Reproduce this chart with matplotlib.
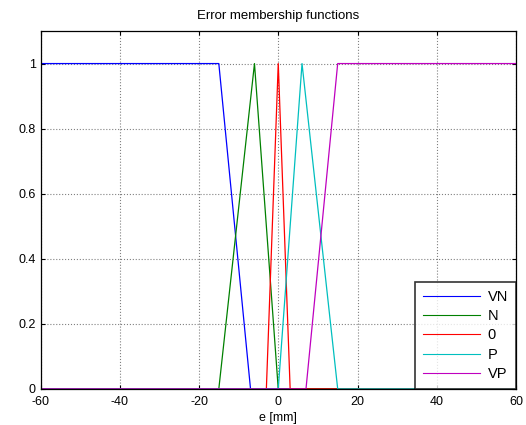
import matplotlib
matplotlib.use("Agg")
import matplotlib.pyplot as plt

plt.rcParams['font.family'] = ['Liberation Sans', 'DejaVu Sans']
plt.rcParams['axes.unicode_minus'] = False

# breakpoints of each membership function (x in mm, y = membership degree)
names = ["VN", "N", "0", "P", "VP"]
vn_x = [-60, -15, -7, 60]
vn_y = [1, 1, 0, 0]
n_x = [-60, -15, -6, 0, 60]
n_y = [0, 0, 1, 0, 0]
z_x = [-60, -3, 0, 3, 60]
z_y = [0, 0, 1, 0, 0]
p_x = [-60, 0, 6, 15, 60]
p_y = [0, 0, 1, 0, 0]
vp_x = [-60, 7, 15, 60]
vp_y = [0, 0, 1, 1]

colors = ['#0000ff', '#008000', '#ff0000', '#00bfbf', '#bf00bf']
xs = [vn_x, n_x, z_x, p_x, vp_x]
ys = [vn_y, n_y, z_y, p_y, vp_y]

fig = plt.figure(figsize=(5.26, 4.25), dpi=100)
ax = fig.add_axes([0.077, 0.085, 0.904, 0.842])

for x, y, c, nm in zip(xs, ys, colors, names):
    ax.plot(x, y, color=c, linewidth=0.9, label=nm)

ax.set_xlim(-60, 60)
ax.set_ylim(0, 1.1)
ax.set_xticks(range(-60, 61, 20))
ax.set_yticks([0, 0.2, 0.4, 0.6, 0.8, 1])
ax.set_yticklabels(['0', '0.2', '0.4', '0.6', '0.8', '1'])
ax.grid(True, linestyle=':', color='#808080', linewidth=0.8)
ax.tick_params(direction='in', labelsize=9, length=3, top=True, right=True)
ax.tick_params(axis='x', pad=5)
for s in ax.spines.values():
    s.set_linewidth(0.9)

ax.set_title("Error membership functions", fontsize=9.5, pad=9)
ax.set_xlabel("e [mm]", fontsize=9, labelpad=3)

leg = ax.legend(loc='lower right', fontsize=10.5, frameon=True, fancybox=False,
                edgecolor='black', handlelength=3.9, handletextpad=0.5,
                borderaxespad=0, labelspacing=0.36, borderpad=0.55)
leg.get_frame().set_linewidth(1.2)
for ln in leg.get_lines():
    ln.set_linewidth(0.8)

fig.savefig("out.png", dpi=100)
